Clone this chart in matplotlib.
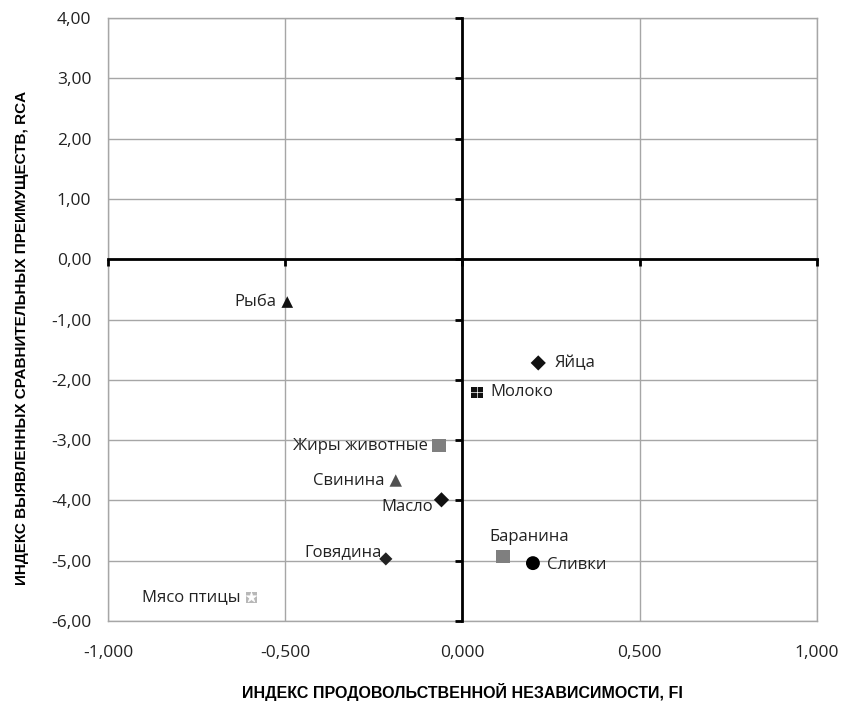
import matplotlib
matplotlib.use("Agg")
import matplotlib.pyplot as plt
from matplotlib.ticker import FuncFormatter, MultipleLocator
from matplotlib import font_manager

names = ["Рыба", "Яйца", "Молоко", "Жиры животные", "Свинина", "Масло",
         "Говядина", "Мясо птицы", "Баранина", "Сливки"]
fi = [-0.494, 0.214, 0.041, -0.066, -0.188, -0.059, -0.216, -0.595, 0.115, 0.199]
rca = [-0.71, -1.72, -2.21, -3.09, -3.67, -3.99, -4.97, -5.61, -4.93, -5.04]
markers = ["^", "D", "s", "s", "^", "D", "D", "s", "s", "o"]
colors = ["#111111", "#111111", "#111111", "#7f7f7f", "#505050", "#111111",
          "#222222", "#b8b8b8", "#7f7f7f", "#000000"]
sizes = [70, 60, 70, 95, 80, 60, 45, 70, 95, 100]
# label offsets in points (dx, dy) and alignment
offsets = [(-8, 0, "right", "center"), (12, 0, "left", "center"), (10, 0, "left", "center"),
           (-8, 0, "right", "center"), (-8, 0, "right", "center"), (-6, -5, "right", "center"),
           (-3, 5, "right", "center"), (-8, 0, "right", "center"), (-10, 14, "left", "center"),
           (10, -1, "left", "center")]

xlim = (-1.0, 1.0)
ylim = (-6.0, 4.0)

avail = {f.name for f in font_manager.fontManager.ttflist}
label_font = "Open Sans" if "Open Sans" in avail else "DejaVu Sans"
title_font = "Liberation Sans Narrow" if "Liberation Sans Narrow" in avail else "Liberation Sans"

fig = plt.figure(figsize=(8.43, 7.01), dpi=100)
ax = fig.add_axes([0.128, 0.1141, 0.841, 0.8602])
ax.set_xlim(*xlim)
ax.set_ylim(*ylim)
ax.xaxis.set_major_locator(MultipleLocator(0.5))
ax.yaxis.set_major_locator(MultipleLocator(1.0))
ax.xaxis.set_major_formatter(FuncFormatter(lambda v, p: f"{v:.3f}".replace(".", ",").replace("-0,000", "0,000")))
ax.yaxis.set_major_formatter(FuncFormatter(lambda v, p: f"{v:.2f}".replace(".", ",").replace("-0,00", "0,00")))
ax.grid(True, color="#a6a6a6", linewidth=1.0)
ax.set_axisbelow(True)
for s in ax.spines.values():
    s.set_color("#a6a6a6")
    s.set_linewidth(1.0)
ax.tick_params(axis="y", length=0, pad=12, labelsize=12.5)
ax.tick_params(axis="x", length=0, pad=17, labelsize=12.5)
for t in ax.get_xticklabels() + ax.get_yticklabels():
    t.set_fontfamily(label_font)
    t.set_color("#222222")

ax.set_xlabel("ИНДЕКС ПРОДОВОЛЬСТВЕННОЙ НЕЗАВИСИМОСТИ, FI", fontfamily=title_font,
              fontweight="bold", fontsize=11.5, labelpad=16)
ax.set_ylabel("ИНДЕКС ВЫЯВЛЕННЫХ СРАВНИТЕЛЬНЫХ ПРЕИМУЩЕСТВ, RCA", fontfamily=title_font,
              fontweight="bold", fontsize=11, labelpad=0)
ax.yaxis.set_label_coords(-0.111, 0.47)

# overlay axes for the zero-crossing axis lines
ax2 = fig.add_axes(ax.get_position(), frameon=True)
ax2.patch.set_alpha(0)
ax2.set_xlim(*xlim)
ax2.set_ylim(*ylim)
ax2.xaxis.set_major_locator(MultipleLocator(0.5))
ax2.yaxis.set_major_locator(MultipleLocator(1.0))
ax2.spines["left"].set_position(("data", 0))
ax2.spines["bottom"].set_position(("data", 0))
ax2.spines["right"].set_visible(False)
ax2.spines["top"].set_visible(False)
for k in ("left", "bottom"):
    ax2.spines[k].set_color("black")
    ax2.spines[k].set_linewidth(2.0)
ax2.tick_params(direction="out", length=5, width=2, color="black",
                labelleft=False, labelbottom=False)
ax2.set_zorder(1)

for i in range(len(names)):
    ax2.scatter(fi[i], rca[i], marker=markers[i], s=sizes[i], color=colors[i],
                edgecolors="none", zorder=5)
    dx, dy, ha, va = offsets[i]
    ax2.annotate(names[i], (fi[i], rca[i]), xytext=(dx, dy), textcoords="offset points",
                 ha=ha, va=va, fontsize=12, fontfamily=label_font, color="#222222", zorder=6)

# pattern details on two markers
ax2.scatter([fi[2]], [rca[2]], marker="+", s=90, color="white", linewidths=0.5, zorder=6)
ax2.scatter([fi[7]], [rca[7]], marker="*", s=60, color="white", linewidths=0.5, zorder=6)

fig.savefig("out.png", dpi=100)
